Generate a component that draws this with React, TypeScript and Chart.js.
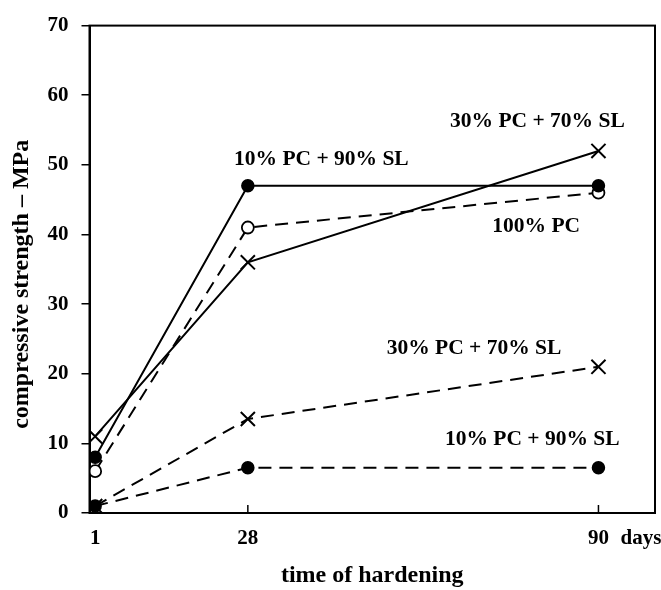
import React, { useEffect, useRef } from "react";
import { Chart, registerables } from "chart.js";

Chart.register(...registerables);

// ---- data ----
const days = [1, 28, 90];
const pc10sl90Solid = [8, 47, 47];
const pc100Dashed = [6, 41, 46];
const pc30sl70Solid = [11, 36, 52];
const pc30sl70Dashed = [1, 13.5, 21];
const pc10sl90Dashed = [1, 6.5, 6.5];

const yTickValues = [0, 10, 20, 30, 40, 50, 60, 70];
const xTickValues = [1, 28, 90];
const xUnitLabel = "days";
const xTitle = "time of hardening";
const yTitle = "compressive strength – MPa";

const labelTexts = ["10% PC + 90% SL", "30% PC + 70% SL", "100% PC", "30% PC + 70% SL", "10% PC + 90% SL"];
const labelX = [41, 79.2, 79, 68, 78.3];
const labelY = [50.8, 56.2, 41.1, 23.7, 10.6];

const FONT = "'Liberation Serif', 'Times New Roman', Times, serif";

const toPoints = (vals: number[]) => days.map((d, i) => ({ x: d, y: vals[i] }));

export default function App() {
  const ref = useRef<HTMLCanvasElement | null>(null);

  useEffect(() => {
    if (!ref.current) return;
    const solid = { borderColor: "#000", borderWidth: 2, tension: 0, fill: false };
    const dashed = { ...solid, borderDash: [13, 8] };
    const filled = { pointStyle: "circle", pointRadius: 6, pointBackgroundColor: "#000", pointBorderColor: "#000", pointBorderWidth: 1.5 };
    const open = { pointStyle: "circle", pointRadius: 6, pointBackgroundColor: "#fff", pointBorderColor: "#000", pointBorderWidth: 1.8 };
    const cross = { pointStyle: "crossRot", pointRadius: 10, pointBackgroundColor: "#000", pointBorderColor: "#000", pointBorderWidth: 2 };

    const overlay = {
      id: "overlay",
      afterDraw(chart: any) {
        const { ctx, chartArea, scales } = chart;
        const xs = scales.x;
        const ys = scales.y;
        ctx.save();
        // frame
        ctx.strokeStyle = "#000";
        ctx.lineWidth = 2;
        ctx.strokeRect(chartArea.left, chartArea.top, chartArea.right - chartArea.left, chartArea.bottom - chartArea.top);
        // inside x ticks
        ctx.lineWidth = 1.5;
        xTickValues.forEach((v) => {
          const px = xs.getPixelForValue(v);
          ctx.beginPath();
          ctx.moveTo(px, chartArea.bottom);
          ctx.lineTo(px, chartArea.bottom - 8);
          ctx.stroke();
        });
        ctx.fillStyle = "#000";
        // annotations
        ctx.font = `bold 21.5px ${FONT}`;
        ctx.textAlign = "center";
        ctx.textBaseline = "middle";
        labelTexts.forEach((t, i) => {
          ctx.fillText(t, xs.getPixelForValue(labelX[i]), ys.getPixelForValue(labelY[i]));
        });
        // unit label after last x tick
        ctx.font = `bold 21px ${FONT}`;
        ctx.textAlign = "left";
        ctx.fillText(xUnitLabel, xs.getPixelForValue(90) + 22, chartArea.bottom + 26);
        // y title
        ctx.font = `bold 24px ${FONT}`;
        ctx.textAlign = "center";
        ctx.translate(22, (chartArea.top + chartArea.bottom) / 2 + 15);
        ctx.rotate(-Math.PI / 2);
        ctx.fillText(yTitle, 0, 0);
        ctx.restore();
      },
    };

    const chart = new Chart(ref.current, {
      type: "line",
      data: {
        datasets: [
          { label: "10% PC + 90% SL (solid)", data: toPoints(pc10sl90Solid), ...solid, ...filled },
          { label: "100% PC", data: toPoints(pc100Dashed), ...dashed, ...open },
          { label: "30% PC + 70% SL (solid)", data: toPoints(pc30sl70Solid), ...solid, ...cross },
          { label: "30% PC + 70% SL (dashed)", data: toPoints(pc30sl70Dashed), ...dashed, ...cross },
          { label: "10% PC + 90% SL (dashed)", data: toPoints(pc10sl90Dashed), ...dashed, ...filled },
        ] as any,
      },
      options: {
        responsive: false,
        animation: false,
        layout: { autoPadding: false, padding: { left: 0, right: 6, top: 17, bottom: 0 } },
        plugins: { legend: { display: false }, tooltip: { enabled: false } },
        scales: {
          x: {
            type: "linear",
            min: 0,
            max: 100,
            afterBuildTicks: (s: any) => {
              s.ticks = xTickValues.map((v) => ({ value: v }));
            },
            afterFit: (s: any) => {
              s.height = 77;
            },
            ticks: {
              color: "#000",
              font: { family: FONT, size: 21, weight: "bold" },
              padding: 13,
              maxRotation: 0,
              autoSkip: false,
            },
            grid: { display: true, drawOnChartArea: false, drawTicks: false, color: "#000" },
            border: { display: true, color: "#000", width: 2 },
            title: {
              display: true,
              text: xTitle,
              color: "#000",
              font: { family: FONT, size: 24, weight: "bold" },
              padding: { top: 0, bottom: 0 },
            },
          },
          y: {
            type: "linear",
            min: 0,
            max: 70,
            afterBuildTicks: (s: any) => {
              s.ticks = yTickValues.map((v) => ({ value: v }));
            },
            afterFit: (s: any) => {
              s.width = 89.5;
            },
            ticks: {
              color: "#000",
              font: { family: FONT, size: 21, weight: "bold" },
              padding: 13,
            },
            grid: { display: true, drawOnChartArea: false, drawTicks: true, tickLength: 8, color: "#000", lineWidth: 1.5 },
            border: { display: true, color: "#000", width: 2 },
          },
        },
      } as any,
      plugins: [overlay],
    });
    return () => chart.destroy();
  }, []);

  return (
    <div style={{ position: "absolute", left: 0, top: 0, width: 661, height: 590, background: "#fff" }}>
      <canvas ref={ref} width={661} height={590} style={{ display: "block" }} />
    </div>
  );
}
